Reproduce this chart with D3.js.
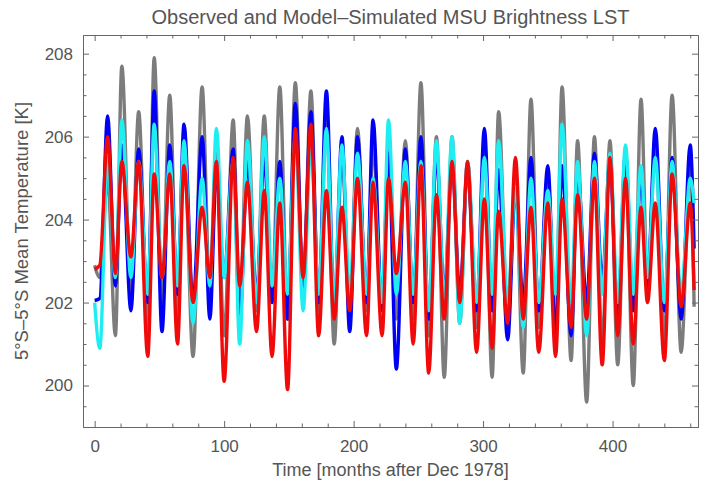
<!DOCTYPE html>
<html>
<head>
<meta charset="utf-8">
<script src="https://cdn.jsdelivr.net/npm/d3@7"></script>
<style>
  body { margin: 0; background: #fff; }
  text { font-family: "Liberation Sans", Arial, sans-serif; }
</style>
</head>
<body>
<div id="chart"></div>
<script>
// months of the turning points (start, troughs and peaks, end)
var months = [0, 4, 10, 16, 21, 28, 34, 41, 46, 52, 58, 64, 69, 76, 83, 89, 94, 100,
  107, 112, 118, 125, 131, 137, 143, 149, 155, 161, 167, 173, 179, 185, 191, 197,
  203, 210, 215, 222, 227, 233, 240, 246, 252, 258, 264, 270, 276, 282, 288, 295,
  301, 307, 312, 319, 325, 331, 337, 343, 350, 356, 361, 368, 373, 380, 386, 392,
  398, 404, 410, 416, 422, 427, 433, 440, 446, 453, 460, 463];

var observed = [202.9, 202.6, 205.0, 201.2, 207.7, 202.0, 206.6, 201.2, 207.9, 202.0,
  207.0, 201.6, 205.8, 200.7, 207.2, 202.2, 205.6, 201.2, 206.4, 201.6, 206.5, 201.8,
  206.5, 202.0, 207.2, 201.6, 207.3, 202.2, 207.1, 201.8, 206.4, 201.0, 205.6, 201.8,
  206.2, 201.8, 205.8, 201.8, 205.8, 201.6, 205.9, 201.6, 207.3, 201.2, 206.0, 200.2,
  206.0, 201.5, 205.4, 201.4, 205.8, 200.2, 206.6, 201.6, 205.0, 200.3, 206.9, 201.4,
  205.0, 201.2, 207.2, 200.6, 205.9, 199.6, 206.0, 201.0, 205.9, 200.5, 205.6, 200.0,
  206.9, 202.4, 205.8, 201.1, 207.0, 200.8, 205.4, 201.9];

var modelBlue = [202.05, 202.1, 206.5, 202.4, 205.8, 201.8, 205.7, 202.0, 207.1, 201.3,
  205.8, 202.2, 206.3, 202.0, 206.0, 201.6, 205.2, 202.6, 205.7, 201.5, 205.4, 202.2,
  205.5, 202.0, 205.4, 201.6, 206.8, 202.4, 206.6, 202.0, 207.1, 201.8, 206.0, 201.3,
  206.0, 202.0, 206.4, 201.8, 205.6, 200.4, 205.7, 202.0, 206.0, 201.6, 205.6, 202.2,
  205.4, 202.2, 205.2, 201.8, 206.2, 201.8, 205.2, 201.1, 204.8, 202.0, 205.5, 201.8,
  205.3, 201.2, 205.3, 201.2, 205.2, 202.0, 205.6, 202.5, 205.4, 201.6, 205.6, 201.8,
  205.1, 202.4, 206.2, 201.8, 205.5, 201.6, 205.8, 203.3];

var modelCyan = [202.0, 200.9, 205.5, 202.6, 206.4, 202.6, 205.4, 202.2, 206.3, 202.6,
  205.4, 202.4, 205.9, 201.5, 205.0, 202.4, 206.2, 202.6, 205.4, 201.0, 205.9, 202.0,
  206.0, 202.4, 205.0, 202.2, 206.0, 201.8, 205.8, 202.2, 206.2, 202.0, 205.8, 202.2,
  205.6, 202.2, 205.0, 202.0, 206.4, 202.2, 205.4, 202.2, 205.4, 201.8, 205.9, 202.0,
  206.0, 201.5, 205.4, 202.0, 205.5, 202.2, 205.9, 202.0, 204.8, 201.4, 205.0, 202.0,
  204.7, 202.2, 206.3, 202.0, 205.4, 201.2, 205.4, 202.2, 205.6, 202.0, 205.8, 202.2,
  205.3, 202.6, 205.5, 202.0, 205.4, 202.2, 205.0, 204.4];

var modelRed = [202.8, 202.9, 206.0, 202.7, 205.4, 203.1, 205.4, 200.7, 205.1, 202.6,
  205.1, 201.0, 205.3, 202.0, 204.3, 202.6, 205.4, 200.1, 205.5, 202.4, 204.9, 201.3,
  204.7, 200.7, 204.4, 199.9, 206.2, 202.6, 206.3, 201.2, 204.7, 201.6, 204.3, 201.8,
  205.0, 201.2, 204.9, 201.2, 205.0, 202.7, 204.9, 201.0, 205.3, 200.3, 204.6, 201.6,
  205.4, 202.0, 205.4, 200.8, 204.5, 200.9, 204.2, 201.5, 205.5, 201.6, 204.3, 200.8,
  204.4, 200.7, 204.5, 201.4, 204.6, 201.6, 205.0, 200.5, 205.5, 201.2, 205.0, 201.0,
  204.3, 202.0, 204.4, 200.6, 205.1, 201.9, 204.4, 202.3];

var xTicks = [0, 100, 200, 300, 400];
var yTicks = [200, 202, 204, 206, 208];

var seriesList = [
  { values: observed, color: "#7c7c7c" },
  { values: modelBlue, color: "#0000f5" },
  { values: modelCyan, color: "#1eeef2" },
  { values: modelRed, color: "#f00a0a" }
];

var W = 705, H = 482;
var margin = { top: 35, right: 7, bottom: 55, left: 83 },
  width = W - margin.left - margin.right,
  height = H - margin.top - margin.bottom;

var svg = d3.select("#chart")
  .append("svg")
  .attr("width", W)
  .attr("height", H);

var g = svg.append("g")
  .attr("transform", "translate(" + margin.left + "," + margin.top + ")");

var x = d3.scaleLinear().domain([-9, 466]).range([0, width]);
var y = d3.scaleLinear().domain([199.0, 208.45]).range([height, 0]);

var axisColor = "#666";
var labelColor = "#555";

// lines
g.append("clipPath").attr("id", "clip")
  .append("rect").attr("width", width).attr("height", height);

var line = d3.line()
  .x(function (d) { return x(d[0]); })
  .y(function (d) { return y(d[1]); })
  .curve(d3.curveMonotoneX);

g.append("g")
  .attr("clip-path", "url(#clip)")
  .selectAll("path")
  .data(seriesList)
  .enter()
  .append("path")
  .attr("fill", "none")
  .attr("stroke", function (d) { return d.color; })
  .attr("stroke-width", 3.4)
  .attr("stroke-linejoin", "round")
  .attr("d", function (d) {
    return line(months.map(function (m, i) { return [m, d.values[i]]; }));
  });

// frame with inward ticks on all four sides
var xMinor = d3.range(0, 461, 20).filter(function (v) { return v % 100 !== 0; });
var yMinor = d3.range(199.5, 208.5, 0.5).filter(function (v) { return v % 2 !== 0; });

function frameAxis(axis, transform) {
  var a = g.append("g").attr("transform", transform).call(axis);
  a.select(".domain").attr("stroke", axisColor);
  a.selectAll(".tick line").attr("stroke", axisColor);
  a.selectAll("text").attr("fill", labelColor).style("font-size", "17px");
  return a;
}

frameAxis(d3.axisBottom(x).tickValues(xTicks).tickSize(-6).tickSizeOuter(0).tickPadding(13),
  "translate(0," + height + ")");
frameAxis(d3.axisBottom(x).tickValues(xMinor).tickSize(-3.5).tickSizeOuter(0).tickFormat(""),
  "translate(0," + height + ")");
frameAxis(d3.axisTop(x).tickValues(xTicks).tickSize(-6).tickSizeOuter(0).tickFormat(""),
  "translate(0,0)");
frameAxis(d3.axisTop(x).tickValues(xMinor).tickSize(-3.5).tickSizeOuter(0).tickFormat(""),
  "translate(0,0)");
frameAxis(d3.axisLeft(y).tickValues(yTicks).tickSize(-6).tickSizeOuter(0).tickPadding(10),
  "translate(0,0)");
frameAxis(d3.axisLeft(y).tickValues(yMinor).tickSize(-3.5).tickSizeOuter(0).tickFormat(""),
  "translate(0,0)");
frameAxis(d3.axisRight(y).tickValues(yTicks).tickSize(-6).tickSizeOuter(0).tickFormat(""),
  "translate(" + width + ",0)");
frameAxis(d3.axisRight(y).tickValues(yMinor).tickSize(-3.5).tickSizeOuter(0).tickFormat(""),
  "translate(" + width + ",0)");

// title and axis labels
svg.append("text")
  .attr("x", margin.left + width / 2)
  .attr("y", 24)
  .attr("text-anchor", "middle")
  .attr("fill", labelColor)
  .style("font-size", "20px")
  .text("Observed and Model\u2013Simulated MSU Brightness LST");

svg.append("text")
  .attr("x", margin.left + width / 2)
  .attr("y", 476)
  .attr("text-anchor", "middle")
  .attr("fill", labelColor)
  .style("font-size", "18px")
  .text("Time [months after Dec 1978]");

svg.append("text")
  .attr("transform", "rotate(-90)")
  .attr("x", -(margin.top + height / 2))
  .attr("y", 28)
  .attr("text-anchor", "middle")
  .attr("fill", labelColor)
  .style("font-size", "18.5px")
  .text("5\u00b0S\u20135\u00b0S  Mean Temperature [K]");
</script>
</body>
</html>
